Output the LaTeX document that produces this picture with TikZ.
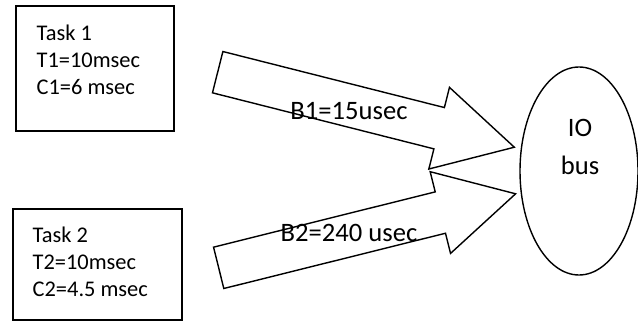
\documentclass[tikz,border=0pt]{standalone}
\usepackage{fontspec}
\setmainfont{Carlito}
\usepackage{tikz}
\usetikzlibrary{shapes.geometric, shapes.arrows, positioning}

\begin{document}
\begin{tikzpicture}[
        x=0.5pt, y=-0.5pt,
        taskbox/.style={rectangle, draw=black, line width=0.7pt, inner sep=0pt},
        tasktext/.style={align=left, inner sep=0pt, font=\fontsize{11.2}{13.5}\selectfont},
        busnode/.style={ellipse, draw=black, line width=0.7pt, minimum width=59pt, minimum height=104pt, inner sep=0pt},
        blockarrow/.style={single arrow, draw=black, fill=white, line width=0.7pt, inner xsep=0pt, inner ysep=10.3pt, minimum height=153pt, single arrow head extend=10.4pt, single arrow tip angle=57, anchor=tail},
        arrowlabel/.style={inner sep=0pt, font=\fontsize{13.3}{16}\selectfont}
    ]
        \useasboundingbox (0,0) rectangle (638,321);

        \node[taskbox, minimum width=79pt, minimum height=62.5pt] (t1) at (95,68.5) {};
        \node[taskbox, minimum width=84.5pt, minimum height=55.5pt] (t2) at (97.5,264.5) {};
        \node[tasktext, below right=9.5pt and 10.5pt of t1.north west] (t1text) {Task 1\\T1=10msec\\C1=6 msec};
        \node[tasktext, below right=9pt and 10pt of t2.north west] (t2text) {Task 2\\T2=10msec\\C2=4.5 msec};

        \node[busnode] (io) at (579,171) {};
        \node[arrowlabel, align=center, anchor=north] (iotext) at (580,119) {IO\\[3pt]bus};

        \node[blockarrow, rotate=-14.2] (b1) at (217,72) {};
        \node[blockarrow, rotate=14] (b2) at (218,268) {};
        \node[arrowlabel] (b1text) at (349,111.5) {B1=15usec};
        \node[arrowlabel] (b2text) at (349,232.5) {B2=240 usec};
    \end{tikzpicture}
\end{document}
